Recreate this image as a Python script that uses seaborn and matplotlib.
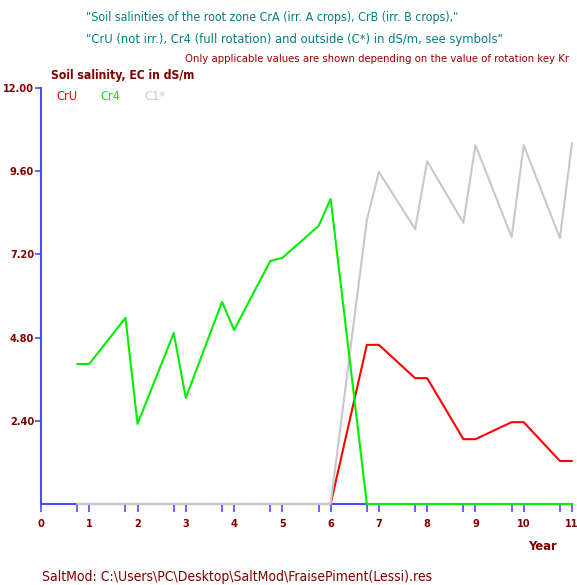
import seaborn as sns
import matplotlib.pyplot as plt
import pandas as pd

# data
years = [0.75, 1, 1.75, 2, 2.75, 3, 3.75, 4, 4.75, 5, 5.75, 6,
         6.75, 7, 7.75, 8, 8.75, 9, 9.75, 10, 10.75, 11]
cr4 = [4.04, 4.04, 5.37, 2.31, 4.93, 3.06, 5.83, 5.02, 7.01, 7.10, 8.02, 8.80,
       0, 0, 0, 0, 0, 0, 0, 0, 0, 0]
cru = [0, 0, 0, 0, 0, 0, 0, 0, 0, 0, 0, 0,
       4.59, 4.59, 3.63, 3.63, 1.87, 1.87, 2.36, 2.36, 1.24, 1.24]
c1 = [0, 0, 0, 0, 0, 0, 0, 0, 0, 0, 0, 0,
      8.19, 9.58, 7.93, 9.89, 8.11, 10.35, 7.70, 10.35, 7.67, 10.41]
yticks = [2.4, 4.8, 7.2, 9.6, 12.0]
xticks = list(range(0, 12))

df = pd.DataFrame({"Year": years * 3,
                   "EC": cru + c1 + cr4,
                   "series": ["CrU"] * len(years) + ["C1*"] * len(years) + ["Cr4"] * len(years)})

sns.set_style("white")
plt.rcParams['font.family'] = ['Liberation Sans Narrow', 'DejaVu Sans']
plt.rcParams['font.stretch'] = 'condensed'

W, H = 577, 585
fig = plt.figure(figsize=(W / 100, H / 100), dpi=100)
ax = fig.add_axes([41 / W, 1 - 504 / H, (572 - 41) / W, (504 - 88) / H])

pal = {"CrU": "#ff0000", "C1*": "#c8c8c8", "Cr4": "#00ee00"}
sns.lineplot(data=df, x="Year", y="EC", hue="series", palette=pal,
             hue_order=["CrU", "C1*", "Cr4"], legend=False, ax=ax,
             linewidth=1.5, estimator=None, sort=False, clip_on=False, zorder=3)

ax.set_xlim(0, 11)
ax.set_ylim(0, 12)
ax.set_xlabel("")
ax.set_ylabel("")

blue = "#4b4bff"
dark = "#800000"
for s in ["top", "right"]:
    ax.spines[s].set_visible(False)
for s in ["left", "bottom"]:
    ax.spines[s].set_color(blue)
    ax.spines[s].set_linewidth(1.5)

ax.set_xticks(xticks)
ax.set_xticklabels([str(t) for t in xticks])
ax.set_xticks([t + 0.75 for t in range(0, 11)], minor=True)
ax.set_yticks(yticks)
ax.set_yticklabels(["%.2f" % t for t in yticks])
ax.tick_params(axis="x", which="both", direction="out", length=6, color=blue,
               width=1.2, labelcolor=dark, labelsize=11, pad=5, bottom=True)
ax.tick_params(axis="y", direction="out", length=4, color=blue, width=1.2,
               labelcolor=dark, labelsize=11, pad=1, left=True)
for lab in ax.get_xticklabels() + ax.get_yticklabels():
    lab.set_fontweight("bold")

def ftext(x, y, s, **kw):
    return fig.text(x / W, 1 - y / H, s, va="center", **kw)

teal = "#008080"
texts = [
    (ftext(86, 18, '"Soil salinities of the root zone CrA (irr. A crops), CrB (irr. B crops),"',
           color=teal, fontsize=11), 312 * 1.2),
    (ftext(86, 40, '"CrU (not irr.), Cr4 (full rotation) and outside (C*) in dS/m, see symbols"',
           color=teal, fontsize=11), 347 * 1.2),
    (ftext(569, 59, "Only applicable values are shown depending on the value of rotation key Kr",
           color="#a00000", fontsize=10, ha="right"), 322 * 1.2),
    (ftext(51, 75, "Soil salinity, EC in dS/m", color=dark, fontsize=11, fontweight="bold"), 120 * 1.2),
    (ftext(528, 547, "Year", color=dark, fontsize=11, fontweight="bold"), 23 * 1.25),
    (ftext(42, 577, r"SaltMod: C:\Users\PC\Desktop\SaltMod\FraisePiment(Lessi).res",
           color=dark, fontsize=11), 324 * 1.2),
]
legend = [ftext(56, 97, "CrU", color="#ff0000", fontsize=11),
          ftext(100, 97, "Cr4", color="#00ee00", fontsize=11),
          ftext(144, 97, "C1*", color="#c8c8c8", fontsize=11)]

# squeeze texts towards the widths seen in the reference
fig.canvas.draw()
r = fig.canvas.get_renderer()
for t, target in texts:
    w = t.get_window_extent(r).width
    t.set_fontsize(t.get_fontsize() * target / w)
lw = legend[1].get_window_extent(r).width
for t in legend:
    t.set_fontsize(11 * 20 / lw)

ylab = ax.get_yticklabels()[-1]
scale = 31 / ylab.get_window_extent(r).width
ax.tick_params(axis="both", labelsize=11 * scale)

fig.savefig("out.png", dpi=100)
